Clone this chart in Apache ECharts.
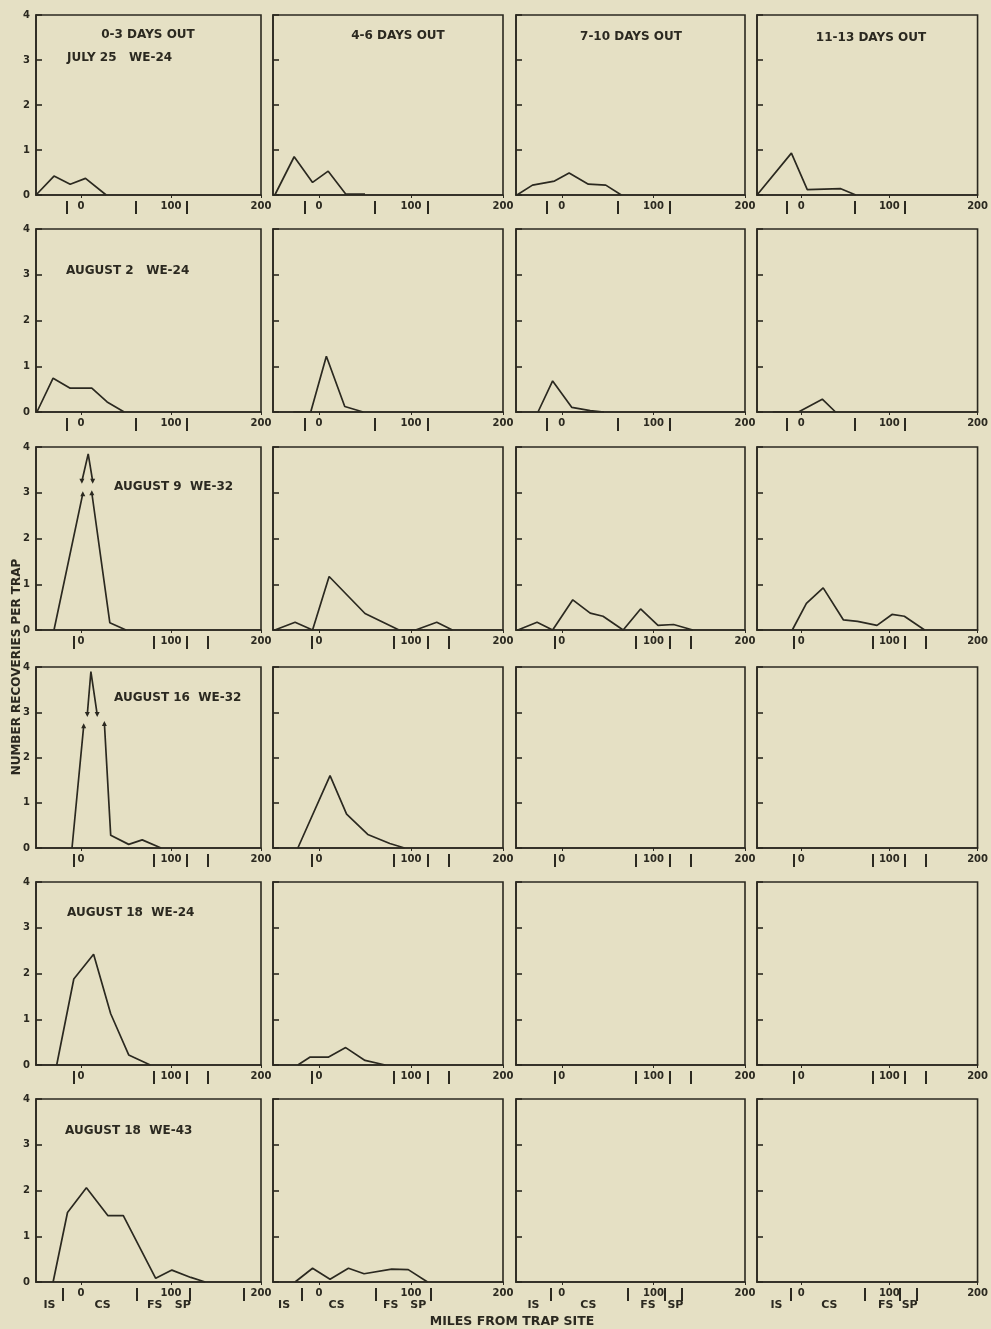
<!DOCTYPE html>
<html><head><meta charset="utf-8">
<script src="https://cdn.jsdelivr.net/npm/echarts@6/dist/echarts.min.js"></script>
<style>html,body{margin:0;padding:0;background:#e5e0c4}#c{width:991px;height:1329px}</style>
</head><body><div id="c"></div>
<script>
// ---------- text ----------
const colHeads = ['0-3 DAYS OUT', '4-6 DAYS OUT', '7-10 DAYS OUT', '11-13 DAYS OUT'];
const rowLabels = ['JULY 25   WE-24', 'AUGUST 2   WE-24', 'AUGUST 9  WE-32', 'AUGUST 16  WE-32', 'AUGUST 18  WE-24', 'AUGUST 18  WE-43'];
const yTitle = 'NUMBER RECOVERIES PER TRAP';
const xTitle = 'MILES FROM TRAP SITE';
const xTickLabels = [0, 100, 200];
const zoneNames = ['IS', 'CS', 'FS', 'SP'];

// ---------- data: [miles, recoveries per trap] ('-' = break in the line) ----------
const r1c1 = [[-50,0],[-30,0.42],[-12,0.24],[5,0.37],[28,0]];
const r1c2 = [[-48,0],[-27,0.85],[-7,0.28],[10,0.53],[29,0.02],[50,0.02]];
const r1c3 = [[-49,0],[-32,0.22],[-8,0.31],[8,0.49],[29,0.24],[48,0.22],[65,0]];
const r1c4 = [[-50,0],[-11,0.93],[7,0.12],[45,0.14],[62,0]];

const r2c1 = [[-49,0],[-31,0.74],[-12,0.52],[12,0.52],[29,0.22],[48,0]];
const r2c2 = [[-28,0],[-9,0],[8,1.22],[28,0.12],[48,0]];
const r2c3 = [[-26,0],[-10,0.68],[11,0.1],[31,0.03],[46,0]];
const r2c4 = [[-32,0],[-3,0],[24,0.28],[39,0]];

const r3c1 = [[-30,0],[2,2.98],[2,'-'],[1,3.25],[8,3.85],[13,3.25],[13,'-'],[12,3.0],[32,0.16],[50,0]];
const r3c2 = [[-48,0],[-26,0.17],[-7,0],[11,1.17],[50,0.36],[87,0],[105,0],[128,0.17],[145,0]];
const r3c3 = [[-48,0],[-27,0.17],[-10,0],[12,0.66],[31,0.37],[45,0.3],[67,0],[86,0.46],[105,0.1],[122,0.12],[143,0]];
const r3c4 = [[-10,0],[6,0.58],[25,0.92],[48,0.22],[64,0.19],[86,0.1],[103,0.34],[117,0.3],[140,0]];

const r4c1 = [[-10,0],[3,2.7],[3,'-'],[7,2.95],[11,3.9],[18,2.95],[18,'-'],[26,2.75],[33,0.28],[53,0.08],[68,0.18],[89,0]];
const r4c2 = [[-23,0],[12,1.6],[30,0.75],[53,0.3],[77,0.1],[93,0]];
const r4c3 = [];
const r4c4 = [];

const r5c1 = [[-27,0],[-8,1.88],[14,2.42],[33,1.12],[53,0.22],[77,0]];
const r5c2 = [[-23,0],[-10,0.17],[10,0.17],[29,0.38],[50,0.1],[72,0]];
const r5c3 = [];
const r5c4 = [];

const r6c1 = [[-31,0],[-15,1.52],[6,2.06],[30,1.45],[47,1.45],[83,0.08],[101,0.26],[122,0.1],[138,0]];
const r6c2 = [[-26,0],[-7,0.3],[12,0.06],[32,0.3],[49,0.18],[79,0.28],[97,0.27],[118,0]];
const r6c3 = [];
const r6c4 = [];

const panels = [
  [r1c1, r1c2, r1c3, r1c4],
  [r2c1, r2c2, r2c3, r2c4],
  [r3c1, r3c2, r3c3, r3c4],
  [r4c1, r4c2, r4c3, r4c4],
  [r5c1, r5c2, r5c3, r5c4],
  [r6c1, r6c2, r6c3, r6c4]
];
// points at the scale breaks of the off-scale peaks: index -> arrow direction
const breakMarks = {
  '2,0': {1: 'up', 3: 'down', 5: 'down', 7: 'up'},
  '3,0': {1: 'up', 3: 'down', 5: 'down', 7: 'up'}
};

// zone boundary marks below each axis (miles)
const boundsA = [-16, 61, 118];
const boundsB = [-8, 81, 118, 141];
const boundsC1 = [-20, 62, 121, 181];
const boundsC2 = [-19, 62, 121];
const boundsC3 = [-12, 72, 112, 131];
const bounds = [
  [boundsA, boundsA, boundsA, boundsA],
  [boundsA, boundsA, boundsA, boundsA],
  [boundsB, boundsB, boundsB, boundsB],
  [boundsB, boundsB, boundsB, boundsB],
  [boundsB, boundsB, boundsB, boundsB],
  [boundsC1, boundsC2, boundsC3, boundsC3]
];
// zone label positions in bottom row (miles)
const zonePos = [[-35, 24, 82, 113], [-38, 19, 78, 108], [-31, 29, 94, 124], [-28, 32, 96, 123]];

// ---------- layout ----------
const colLeft = [36, 273, 516, 757];
const colWidth = [225, 230, 229, 228];
const rowTop = [15, 229, 447, 667, 882, 1099];
const rowHeight = [180, 183, 183, 181, 183, 183];
const ink = '#2b2920';
const FONT = '"DejaVu Sans", sans-serif';

const grid = [], xAxis = [], yAxis = [], series = [];
let xi = 0;
for (let r = 0; r < 6; r++) {
  for (let c = 0; c < 4; c++) {
    const g = grid.length;
    grid.push({left: colLeft[c], top: rowTop[r], width: colWidth[c], height: rowHeight[r],
      show: true, borderColor: ink, borderWidth: 1.6, backgroundColor: 'transparent'});
    const mainX = xi;
    xAxis.push({gridIndex: g, type: 'value', min: -50, max: 200, interval: 50, position: 'bottom',
      axisLine: {show: true, onZero: false, lineStyle: {color: ink, width: 1.6}},
      axisTick: {show: true, customValues: xTickLabels, length: 3, lineStyle: {color: ink, width: 1}},
      axisLabel: {customValues: xTickLabels, color: ink, fontSize: 10, fontFamily: FONT, fontWeight: 'bold', margin: 6,
        showMinLabel: true, showMaxLabel: true},
      splitLine: {show: false}});
    xi++;
    xAxis.push({gridIndex: g, type: 'value', min: -50, max: 200, position: 'bottom', offset: 6,
      axisLine: {show: false, onZero: false},
      axisTick: {show: true, customValues: bounds[r][c], length: 13, lineStyle: {color: ink, width: 2}},
      axisLabel: {show: false}, splitLine: {show: false}});
    xi++;
    if (r === 5) {
      const zp = zonePos[c];
      xAxis.push({gridIndex: g, type: 'value', min: -50, max: 200, position: 'bottom', offset: 18,
        axisLine: {show: false, onZero: false}, axisTick: {show: false},
        axisLabel: {customValues: zp, color: ink, fontSize: 11, fontFamily: FONT, fontWeight: 'bold', margin: 0,
          formatter: (v) => { const i = zp.indexOf(v); return i >= 0 ? zoneNames[i] : ''; }},
        splitLine: {show: false}});
      xi++;
    }
    yAxis.push({gridIndex: g, type: 'value', min: 0, max: 4, interval: 1,
      axisLine: {show: true, onZero: false, lineStyle: {color: ink, width: 1.6}},
      axisTick: {show: true, inside: true, length: 6, lineStyle: {color: ink, width: 1.6}},
      axisLabel: {show: c === 0, color: ink, fontSize: 10, fontFamily: FONT, fontWeight: 'bold', margin: 6},
      splitLine: {show: false}});
    const marks = breakMarks[r + ',' + c] || {};
    const data = panels[r][c].map((p, i) => marks[i] ? {
      value: p, symbol: 'triangle', symbolSize: [5, 5], symbolRotate: marks[i] === 'up' ? 0 : 180,
      itemStyle: {color: ink}} : p);
    series.push({type: 'line', xAxisIndex: mainX, yAxisIndex: g, data: data,
      symbol: 'none', showSymbol: true, connectNulls: false, silent: true, animation: false,
      lineStyle: {color: ink, width: 1.7}});
  }
}

const graphic = [];
const headX = [148, 398, 631, 871], headY = [35, 36, 37, 38];
const TXT = 'bold 12px ' + FONT;
colHeads.forEach((t, i) => graphic.push({type: 'text', x: headX[i], y: headY[i],
  style: {text: t, fill: ink, font: TXT, textAlign: 'center', textVerticalAlign: 'middle'}}));
const labX = [67, 66, 114, 114, 67, 65], labY = [58, 271, 487, 698, 913, 1131];
rowLabels.forEach((t, i) => graphic.push({type: 'text', x: labX[i], y: labY[i],
  style: {text: t, fill: ink, font: TXT, textAlign: 'left', textVerticalAlign: 'middle'}}));
graphic.push({type: 'text', x: 17, y: 667, rotation: Math.PI / 2,
  style: {text: yTitle, fill: ink, font: 'bold 12px ' + FONT, textAlign: 'center', textVerticalAlign: 'middle'}});
graphic.push({type: 'text', x: 512, y: 1322,
  style: {text: xTitle, fill: ink, font: 'bold 12.5px ' + FONT, textAlign: 'center', textVerticalAlign: 'middle'}});

const chart = echarts.init(document.getElementById('c'), null, {renderer: 'canvas'});
chart.setOption({backgroundColor: '#e5e0c4', animation: false, grid, xAxis, yAxis, series, graphic});
</script></body></html>
